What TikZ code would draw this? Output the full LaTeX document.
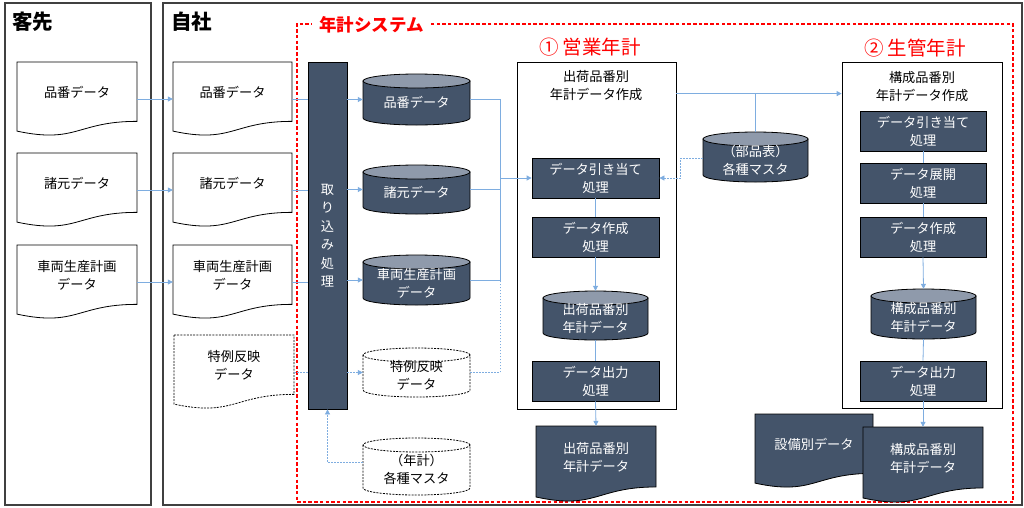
\documentclass[tikz,border=0pt]{standalone}
\usepackage{fontspec}
\setmainfont{Noto Sans CJK JP}
\usetikzlibrary{arrows.meta,calc}
\definecolor{slate}{HTML}{44546A}
\definecolor{slatetop}{HTML}{8F9AAB}
\definecolor{conn}{HTML}{7EADE0}
\definecolor{framec}{HTML}{404040}
\definecolor{redc}{HTML}{FF0000}

\tikzset{
  panel/.style={draw=framec, line width=1.3pt, inner sep=0pt},
  lbl/.style={font=\fontsize{13.2}{18}\selectfont, align=center, inner sep=0pt},
  wlbl/.style={lbl, text=white},
  docwhite/.style={fill=white, draw=black, line width=0.8pt},
  docdash/.style={fill=white, draw=black, line width=0.8pt, dash pattern=on 2pt off 1.2pt},
  docdark/.style={fill=slate, draw=black, line width=0.8pt},
  cylbody/.style={fill=slate, draw=black, line width=0.8pt},
  cyltop/.style={fill=slatetop, draw=black, line width=0.8pt},
  cyldash/.style={fill=white, draw=black, line width=0.8pt, dash pattern=on 2pt off 1.2pt},
  proc/.style={draw=black, fill=slate, text=white, line width=0.8pt, align=center,
    font=\fontsize{13.2}{18}\selectfont, inner sep=0pt, minimum height=40pt},
  group/.style={draw=black, line width=0.8pt, inner sep=0pt},
  conline/.style={draw=conn, line width=0.8pt},
  conarrow/.style={conline, -{Triangle[length=5pt,width=5pt]}},
  condot/.style={draw=conn, line width=0.8pt, dash pattern=on 1.5pt off 1.5pt},
  condotarrow/.style={condot, -{Triangle[length=5pt,width=5pt]}},
  heading/.style={font=\fontsize{20.5}{24}\selectfont\bfseries, inner sep=0pt, anchor=west},
  redhead/.style={font=\fontsize{19.5}{22}\selectfont, text=redc, inner sep=0pt},
}

% document shape: name, x1, x2, top, h, path style, text style, text
\newcommand\mydoc[8]{%
  \pgfmathsetmacro\dcx{(#2+#3)/2}%
  \pgfmathsetmacro\dyr{#4+0.802*#5}%
  \pgfmathsetmacro\dyc{#4+1.107*#5}%
  \pgfmathsetmacro\dyl{#4+0.934*#5}%
  \pgfmathsetmacro\dw{#3-#2}%
  \pgfmathsetmacro\dcy{#4+#5/2}%
  \pgfmathsetmacro\dty{#4+0.41*#5}%
  \path[#6] (#2,#4) -- (#3,#4) -- (#3,\dyr) .. controls (\dcx,\dyr) and (\dcx,\dyc) .. (#2,\dyl) -- cycle;
  \node[inner sep=0pt, minimum width=\dw pt, minimum height=#5pt] (#1) at (\dcx,\dcy) {};
  \node[#7] (#1-t) at (\dcx,\dty) {#8};
}

% cylinder: name, x1, x2, top, bottom, body style, top style, text style, text
\newcommand\mycyl[9]{%
  \pgfmathsetmacro\ccx{(#2+#3)/2}%
  \pgfmathsetmacro\crx{(#3-#2)/2}%
  \pgfmathsetmacro\cty{#4+7}%
  \pgfmathsetmacro\cby{#5-7}%
  \pgfmathsetmacro\ccy{(#4+#5)/2}%
  \pgfmathsetmacro\ch{#5-#4}%
  \pgfmathsetmacro\cw{#3-#2}%
  \pgfmathsetmacro\ctxt{(#4+#5)/2+3}%
  \path[#6] (#2,\cty) -- (#2,\cby) arc[start angle=180,end angle=360,x radius=\crx pt,y radius=7pt] -- (#3,\cty) -- cycle;
  \path[#7] (\ccx,\cty) ellipse[x radius=\crx pt, y radius=7pt];
  \node[inner sep=0pt, minimum width=\cw pt, minimum height=\ch pt] (#1) at (\ccx,\ccy) {};
  \node[#8] (#1-t) at (\ccx,\ctxt) {#9};
}

\begin{document}
\begin{tikzpicture}[x=1pt,y=-1pt]
\useasboundingbox[fill=white] (0,0) rectangle (1024,507);

% panels
\node[panel, minimum width=146pt, minimum height=502pt] (kpanel) at (78,254) {};
\node[panel, minimum width=859pt, minimum height=502pt] (jpanel) at (592.5,254) {};
\node[heading] (khead) at (12,22) {客先};
\node[heading] (jhead) at (171,22) {自社};

% system dashed frame
\node[draw=redc, line width=1.3pt, dash pattern=on 3.5pt off 2.2pt, inner sep=0pt,
      minimum width=716pt, minimum height=478pt] (sys) at (655,263) {};
\node[font=\fontsize{17.5}{20}\selectfont\bfseries, text=redc, fill=white, inner xsep=7pt, inner ysep=1pt, anchor=west] (systitle) at (312,25) {年計システム};

\node[redhead] (h1) at (590,47) {① 営業年計};
\node[redhead] (h2) at (915,48) {② 生管年計};

% customer docs
\mydoc{kd1}{17}{137}{62}{74}{docwhite}{lbl}{品番データ}
\mydoc{kd2}{17}{137}{153}{74}{docwhite}{lbl}{諸元データ}
\mydoc{kd3}{17}{137}{245}{74}{docwhite}{lbl}{車両生産計画\\データ}

% own docs
\mydoc{jd1}{173}{292}{62}{74}{docwhite}{lbl}{品番データ}
\mydoc{jd2}{173}{292}{153}{74}{docwhite}{lbl}{諸元データ}
\mydoc{jd3}{173}{292}{245}{74}{docwhite}{lbl}{車両生産計画\\データ}
\mydoc{jd4}{174}{294}{335}{74}{docdash}{lbl}{特例反映\\データ}

% intake bar
\node[draw=black, fill=slate, line width=0.8pt, inner sep=0pt, minimum width=39pt, minimum height=347pt,
      text=white, font=\fontsize{13.2}{18.5}\selectfont, align=center] (bar) at (327.5,235.5)
      {取\\り\\込\\み\\処\\理};

% cylinders
\mycyl{c1}{363}{470}{74}{125}{cylbody}{cyltop}{wlbl}{品番データ}
\mycyl{c2}{363}{470}{165}{214}{cylbody}{cyltop}{wlbl}{諸元データ}
\mycyl{c3}{363}{470}{255}{305}{cylbody}{cyltop}{wlbl}{車両生産計画\\データ}
\mycyl{c4}{363}{470}{348}{397}{cyldash}{cyldash}{lbl}{特例反映\\データ}
\mycyl{c5}{363}{470}{438}{495}{cyldash}{cyldash}{lbl}{（年計）\\各種マスタ}

% sales group
\node[group, minimum width=159pt, minimum height=347pt] (mbox) at (596.5,235.5) {};
\node[lbl] (mbox-t) at (596,86) {出荷品番別\\年計データ作成};
\node[proc, minimum width=127pt] (m1) at (595.5,178) {データ引き当て\\処理};
\node[proc, minimum width=127pt] (m2) at (595.5,237) {データ作成\\処理};
\mycyl{mcyl}{543}{648}{291}{340}{cylbody}{cyltop}{wlbl}{出荷品番別\\年計データ}
\node[proc, minimum width=127pt] (m4) at (595.5,381) {データ出力\\処理};
\mydoc{mdoc}{536}{656}{426}{76}{docdark}{wlbl}{出荷品番別\\年計データ}

% parts master
\mycyl{bcyl}{703}{808}{132}{182}{cylbody}{cyltop}{wlbl}{（部品表）\\各種マスタ}

% production group
\node[group, minimum width=160pt, minimum height=346pt] (rbox) at (922,235) {};
\node[lbl] (rbox-t) at (922,87) {構成品番別\\年計データ作成};
\node[proc, minimum width=126pt] (r1) at (923,131) {データ引き当て\\処理};
\node[proc, minimum width=126pt] (r2) at (923,183) {データ展開\\処理};
\node[proc, minimum width=126pt] (r3) at (923,237) {データ作成\\処理};
\mycyl{rcyl}{871}{976}{289}{339}{cylbody}{cyltop}{wlbl}{構成品番別\\年計データ}
\node[proc, minimum width=126pt] (r4) at (923,381) {データ出力\\処理};
\mydoc{sdoc}{755}{873}{414}{74}{docdark}{wlbl}{設備別データ}
\mydoc{rdoc}{863}{983}{427}{76}{docdark}{wlbl}{構成品番別\\年計データ}

% connectors: customer -> own
\draw[conarrow] (kd1.east) -- (jd1.west);
\draw[conarrow] (kd2.east) -- (jd2.west);
\draw[conarrow] (kd3.east) -- (jd3.west);
% own -> bar
\draw[conline] (jd1.east) -- (jd1.east -| bar.west);
\draw[conline] (jd2.east) -- (jd2.east -| bar.west);
\draw[conline] (jd3.east) -- (jd3.east -| bar.west);
\draw[condot] (jd4.east) -- (jd4.east -| bar.west);
% bar -> cylinders
\draw[conarrow] (c1.west -| bar.east) -- (c1.west);
\draw[conarrow] (c2.west -| bar.east) -- (c2.west);
\draw[conarrow] (c3.west -| bar.east) -- (c3.west);
\draw[condotarrow] (c4.west -| bar.east) -- (c4.west);
% master -> bar
\draw[condotarrow] ([yshift=4pt]c5.west) -| (bar.south);
% cylinders -> m1
\coordinate (junc) at (500,178);
\draw[conline] (c1.east) -| (junc);
\draw[conline] (c2.east) -| (junc);
\draw[conline] (c3.east) -| (junc);
\draw[condot] (c4.east) -| (c3.east -| junc);
\draw[conarrow] (junc) -- (m1.west);
% sales chain
\draw[conline] (m1.south) -- (m2.north);
\draw[conarrow] (m2.south) -- (mcyl.north);
\draw[conline] (mcyl.south) -- (m4.north);
\draw[conarrow] (m4.south) -- (mdoc.north);
% sales -> production
\draw[conarrow] ([yshift=-32pt]mbox.north east) -- ([yshift=-32pt]rbox.north west);
\draw[conline] (bcyl.north) -- (bcyl.north |- 0,94);
\draw[condotarrow] ([yshift=-1pt]bcyl.west) -- ++(-22,0) |- (m1.east);
% production chain
\draw[conline] (r1.south) -- (r2.north);
\draw[conline] (r2.south) -- (r3.north);
\draw[conarrow] (r3.south) -- (rcyl.north);
\draw[conline] (rcyl.south) -- (r4.north);
\draw[conarrow] (r4.south) -- (rdoc.north);
\end{tikzpicture}
\end{document}
